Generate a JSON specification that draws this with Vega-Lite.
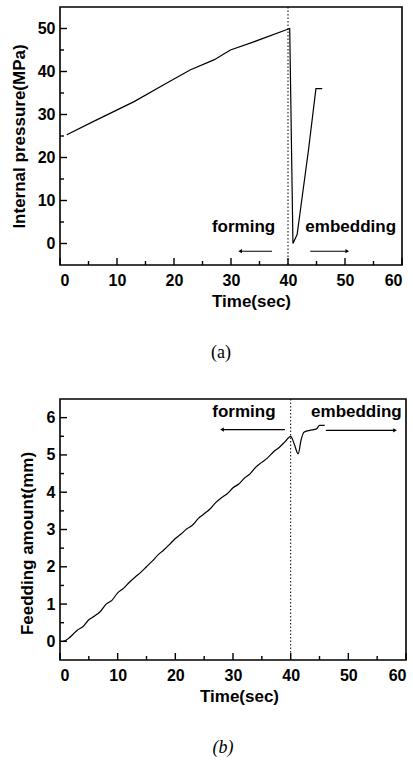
{
  "$schema": "https://vega.github.io/schema/vega-lite/v6.json",
  "padding": {"left": 9, "top": 5, "right": 5, "bottom": 5},
  "spacing": 34,
  "config": {
    "view": {"stroke": "black", "strokeWidth": 1.6},
    "font": "Liberation Sans",
    "axis": {
      "labelFont": "Liberation Sans", "labelFontWeight": "bold", "labelFontSize": 16, "labelColor": "black",
      "titleFont": "Liberation Sans", "titleFontWeight": "bold", "titleFontSize": 17, "titleColor": "black",
      "grid": false, "domain": false, "ticks": false
    },
    "title": {"font": "Liberation Serif", "fontSize": 18, "fontWeight": "normal", "color": "black"}
  },
  "vconcat": [
    {
      "width": 342, "height": 258,
      "title": {"text": "(a)", "orient": "bottom", "offset": 35, "dx": -10},
      "layer": [
        {
          "data": {"values": [
            {"t": 1.2, "v": 25.3}, {"t": 5.9, "v": 28.4}, {"t": 13.0, "v": 33.0}, {"t": 18.2, "v": 36.9},
            {"t": 22.9, "v": 40.4}, {"t": 27.0, "v": 42.7}, {"t": 29.9, "v": 45.0}, {"t": 34.0, "v": 46.9},
            {"t": 40.3, "v": 50.0}, {"t": 40.87, "v": 0.0}, {"t": 41.6, "v": 2.1}, {"t": 43.6, "v": 21.8},
            {"t": 44.9, "v": 36.0}, {"t": 46.0, "v": 36.0}
          ]},
          "mark": {"type": "line", "color": "black", "strokeWidth": 1.2},
          "encoding": {
            "x": {"field": "t", "type": "quantitative", "scale": {"domain": [0, 60], "nice": false},
              "axis": {"title": "Time(sec)", "values": [0,10,20,30,40,50,60],
                "labelPadding": 7, "titlePadding": 5, "titleX": 191}},
            "y": {"field": "v", "type": "quantitative", "scale": {"domain": [-5, 55], "nice": false},
              "axis": {"title": "Internal pressure(MPa)", "values": [0,10,20,30,40,50],
                "labelPadding": 5, "titlePadding": 9}}
          }
        },
        {
          "data": {"values": [{"t": 0}, {"t": 10}, {"t": 20}, {"t": 30}, {"t": 40}, {"t": 50}, {"t": 60}]},
          "mark": {"type": "tick", "orient": "vertical", "color": "black", "size": 7, "thickness": 1.4, "yOffset": -3.5, "opacity": 1},
          "encoding": {"x": {"field": "t", "type": "quantitative"}, "y": {"datum": -5, "type": "quantitative"}}
        },
        {
          "data": {"values": [{"t": 5}, {"t": 15}, {"t": 25}, {"t": 35}, {"t": 45}, {"t": 55}]},
          "mark": {"type": "tick", "orient": "vertical", "color": "black", "size": 4, "thickness": 1.4, "yOffset": -2, "opacity": 1},
          "encoding": {"x": {"field": "t", "type": "quantitative"}, "y": {"datum": -5, "type": "quantitative"}}
        },
        {
          "data": {"values": [{"v": 0}, {"v": 10}, {"v": 20}, {"v": 30}, {"v": 40}, {"v": 50}]},
          "mark": {"type": "tick", "orient": "horizontal", "color": "black", "size": 7, "thickness": 1.4, "xOffset": 3.5, "opacity": 1},
          "encoding": {"y": {"field": "v", "type": "quantitative"}, "x": {"datum": 0, "type": "quantitative"}}
        },
        {
          "data": {"values": [{"v": 5}, {"v": 15}, {"v": 25}, {"v": 35}, {"v": 45}]},
          "mark": {"type": "tick", "orient": "horizontal", "color": "black", "size": 4, "thickness": 1.4, "xOffset": 2, "opacity": 1},
          "encoding": {"y": {"field": "v", "type": "quantitative"}, "x": {"datum": 0, "type": "quantitative"}}
        },
        {
          "data": {"values": [{"t": 40}]},
          "mark": {"type": "rule", "color": "black", "strokeDash": [1.5, 2], "strokeWidth": 1},
          "encoding": {"x": {"field": "t", "type": "quantitative"}}
        },
        {
          "data": {"values": [{"label": "forming", "t": 32.2, "v": 3.8}, {"label": "embedding", "t": 51.0, "v": 3.8}]},
          "mark": {"type": "text", "font": "Liberation Sans", "fontWeight": "bold", "fontSize": 17, "color": "black", "baseline": "middle"},
          "encoding": {
            "x": {"field": "t", "type": "quantitative"},
            "y": {"field": "v", "type": "quantitative"},
            "text": {"field": "label"}
          }
        },
        {
          "data": {"values": [{"t": 37.2, "t2": 31.6, "v": -1.8}, {"t": 43.9, "t2": 50.4, "v": -1.8}]},
          "mark": {"type": "rule", "color": "black", "strokeWidth": 1.2},
          "encoding": {
            "x": {"field": "t", "type": "quantitative"},
            "x2": {"field": "t2"},
            "y": {"field": "v", "type": "quantitative"}
          }
        },
        {
          "data": {"values": [{"t": 31.6, "v": -1.8}]},
          "mark": {"type": "point", "shape": "triangle-left", "filled": true, "color": "black", "size": 18, "opacity": 1},
          "encoding": {
            "x": {"field": "t", "type": "quantitative"},
            "y": {"field": "v", "type": "quantitative"}
          }
        },
        {
          "data": {"values": [{"t": 50.4, "v": -1.8}]},
          "mark": {"type": "point", "shape": "triangle-right", "filled": true, "color": "black", "size": 18, "opacity": 1},
          "encoding": {
            "x": {"field": "t", "type": "quantitative"},
            "y": {"field": "v", "type": "quantitative"}
          }
        }
      ]
    },
    {
      "width": 346, "height": 261,
      "title": {"text": "(b)", "orient": "bottom", "offset": 35, "dx": -10, "fontStyle": "italic"},
      "layer": [
        {
          "data": {"values": [
            {"t": 0, "v": 0}, {"t": 0.7, "v": 0.01}, {"t": 1.5, "v": 0.08}, {"t": 2, "v": 0.15}, {"t": 3, "v": 0.3},
            {"t": 4, "v": 0.4}, {"t": 5, "v": 0.58}, {"t": 6, "v": 0.68}, {"t": 7, "v": 0.8}, {"t": 8, "v": 1.0},
            {"t": 9, "v": 1.1}, {"t": 10, "v": 1.3}, {"t": 11, "v": 1.42}, {"t": 12, "v": 1.58}, {"t": 13, "v": 1.72},
            {"t": 14, "v": 1.85}, {"t": 15, "v": 2.0}, {"t": 16, "v": 2.15}, {"t": 17, "v": 2.32}, {"t": 18, "v": 2.45},
            {"t": 19, "v": 2.6}, {"t": 20, "v": 2.76}, {"t": 21, "v": 2.88}, {"t": 22, "v": 3.02}, {"t": 23, "v": 3.12},
            {"t": 24, "v": 3.3}, {"t": 25, "v": 3.42}, {"t": 26, "v": 3.55}, {"t": 27, "v": 3.72}, {"t": 28, "v": 3.85},
            {"t": 29, "v": 3.96}, {"t": 30, "v": 4.12}, {"t": 31, "v": 4.22}, {"t": 32, "v": 4.38}, {"t": 33, "v": 4.5},
            {"t": 34, "v": 4.68}, {"t": 35, "v": 4.8}, {"t": 36, "v": 4.92}, {"t": 37, "v": 5.08}, {"t": 38, "v": 5.2},
            {"t": 39, "v": 5.35}, {"t": 40, "v": 5.5}, {"t": 40.6, "v": 5.3}, {"t": 41.3, "v": 5.03}, {"t": 41.8, "v": 5.4},
            {"t": 42.3, "v": 5.61}, {"t": 43.3, "v": 5.66}, {"t": 44.5, "v": 5.7}, {"t": 45.0, "v": 5.79}, {"t": 45.9, "v": 5.79}
          ]},
          "mark": {"type": "line", "color": "black", "strokeWidth": 1.2, "interpolate": "monotone"},
          "encoding": {
            "x": {"field": "t", "type": "quantitative", "scale": {"domain": [0, 60], "nice": false},
              "axis": {"title": "Time(sec)", "values": [0,10,20,30,40,50,60],
                "labelPadding": 7, "titlePadding": 5, "titleX": 179}},
            "y": {"field": "v", "type": "quantitative", "scale": {"domain": [-0.5, 6.5], "nice": false},
              "axis": {"title": "Feedding amount(mm)", "values": [0,1,2,3,4,5,6],
                "labelPadding": 5, "titlePadding": 10, "titleY": 144}}
          }
        },
        {
          "data": {"values": [{"t": 0}, {"t": 10}, {"t": 20}, {"t": 30}, {"t": 40}, {"t": 50}, {"t": 60}]},
          "mark": {"type": "tick", "orient": "vertical", "color": "black", "size": 7, "thickness": 1.4, "yOffset": -3.5, "opacity": 1},
          "encoding": {"x": {"field": "t", "type": "quantitative"}, "y": {"datum": -0.5, "type": "quantitative"}}
        },
        {
          "data": {"values": [{"t": 5}, {"t": 15}, {"t": 25}, {"t": 35}, {"t": 45}, {"t": 55}]},
          "mark": {"type": "tick", "orient": "vertical", "color": "black", "size": 4, "thickness": 1.4, "yOffset": -2, "opacity": 1},
          "encoding": {"x": {"field": "t", "type": "quantitative"}, "y": {"datum": -0.5, "type": "quantitative"}}
        },
        {
          "data": {"values": [{"v": 0}, {"v": 1}, {"v": 2}, {"v": 3}, {"v": 4}, {"v": 5}, {"v": 6}]},
          "mark": {"type": "tick", "orient": "horizontal", "color": "black", "size": 7, "thickness": 1.4, "xOffset": 3.5, "opacity": 1},
          "encoding": {"y": {"field": "v", "type": "quantitative"}, "x": {"datum": 0, "type": "quantitative"}}
        },
        {
          "data": {"values": [{"v": 0.5}, {"v": 1.5}, {"v": 2.5}, {"v": 3.5}, {"v": 4.5}, {"v": 5.5}]},
          "mark": {"type": "tick", "orient": "horizontal", "color": "black", "size": 4, "thickness": 1.4, "xOffset": 2, "opacity": 1},
          "encoding": {"y": {"field": "v", "type": "quantitative"}, "x": {"datum": 0, "type": "quantitative"}}
        },
        {
          "data": {"values": [{"t": 40}]},
          "mark": {"type": "rule", "color": "black", "strokeDash": [1.5, 2], "strokeWidth": 1},
          "encoding": {"x": {"field": "t", "type": "quantitative"}}
        },
        {
          "data": {"values": [{"label": "forming", "t": 31.9, "v": 6.16}, {"label": "embedding", "t": 51.4, "v": 6.16}]},
          "mark": {"type": "text", "font": "Liberation Sans", "fontWeight": "bold", "fontSize": 17, "color": "black", "baseline": "middle"},
          "encoding": {
            "x": {"field": "t", "type": "quantitative"},
            "y": {"field": "v", "type": "quantitative"},
            "text": {"field": "label"}
          }
        },
        {
          "data": {"values": [{"t": 39.0, "t2": 28.1, "v": 5.68}, {"t": 46.1, "t2": 58.1, "v": 5.66}]},
          "mark": {"type": "rule", "color": "black", "strokeWidth": 1.2},
          "encoding": {
            "x": {"field": "t", "type": "quantitative"},
            "x2": {"field": "t2"},
            "y": {"field": "v", "type": "quantitative"}
          }
        },
        {
          "data": {"values": [{"t": 28.1, "v": 5.68}]},
          "mark": {"type": "point", "shape": "triangle-left", "filled": true, "color": "black", "size": 18, "opacity": 1},
          "encoding": {
            "x": {"field": "t", "type": "quantitative"},
            "y": {"field": "v", "type": "quantitative"}
          }
        },
        {
          "data": {"values": [{"t": 58.1, "v": 5.66}]},
          "mark": {"type": "point", "shape": "triangle-right", "filled": true, "color": "black", "size": 18, "opacity": 1},
          "encoding": {
            "x": {"field": "t", "type": "quantitative"},
            "y": {"field": "v", "type": "quantitative"}
          }
        }
      ]
    }
  ]
}
